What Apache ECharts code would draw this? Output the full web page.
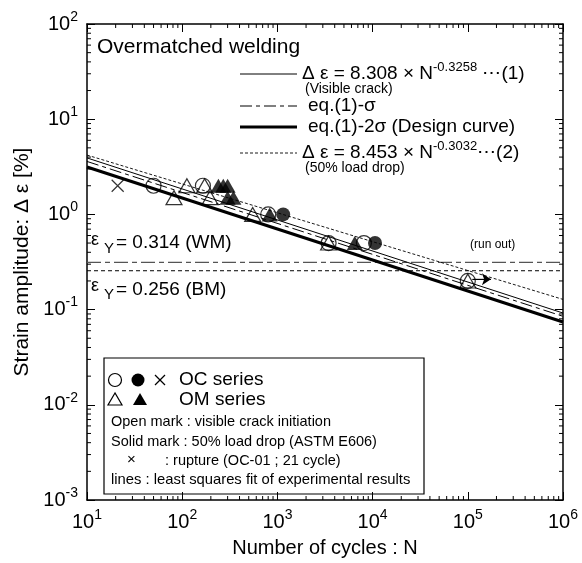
<!DOCTYPE html>
<html>
<head>
  <meta charset="utf-8">
  <title>Overmatched welding - strain life</title>
  <script src="https://cdn.jsdelivr.net/npm/echarts@6/dist/echarts.min.js"></script>
</head>
<style>
  html, body { margin: 0; padding: 0; background: #fff; }
  #chart { width: 582px; height: 563px; }
</style>
<body>
<div id="chart"></div>
<script>
  // measured points [N, strain %]
  const ocOpen = [[50, 2.0], [165, 2.0], [800, 1.0], [3450, 0.5], [8100, 0.5], [100000, 0.2]];
  const ocSolid = [[1150, 1.0], [10600, 0.5]];
  const ocRupture = [[21, 2.0]];
  const omOpen = [[82, 1.5], [112, 2.0], [172, 2.0], [196, 1.5], [550, 1.0], [3450, 0.5], [100000, 0.2]];
  const omSolid = [[240, 2.0], [270, 2.0], [300, 2.0], [300, 1.5], [345, 1.5], [830, 1.0], [6500, 0.5]];
  const runOut = [[112000, 0.208], [175000, 0.208]];

  // fitted lines (end points)
  const eq1 = [[10, 3.92], [1e6, 0.092]];
  const eq1Sigma = [[10, 3.6], [1e6, 0.085]];
  const eq1TwoSigma = [[10, 3.15], [1e6, 0.074]];
  const eq2 = [[10, 4.2], [1e6, 0.128]];
  const yieldWM = [[10, 0.314], [1e6, 0.314]];
  const yieldBM = [[10, 0.256], [1e6, 0.256]];

  // minor tick positions
  const xDecades = [10, 100, 1000, 10000, 100000];
  const yDecades = [0.001, 0.01, 0.1, 1, 10];
  const minorMult = [2, 3, 4, 5, 6, 7, 8, 9];

  const FONT = 'Liberation Sans, Arial, sans-serif';

  const powLabel = v => '{b|10}{s|' + Math.round(Math.log10(v)) + '}';
  const powRich = {
    b: { fontSize: 20, fontFamily: FONT, color: '#000' },
    s: { fontSize: 14, fontFamily: FONT, color: '#000', padding: [0, 0, 14, 0] }
  };

  function baseAxis(extra) {
    return Object.assign({
      type: 'log',
      logBase: 10,
      axisLine: { lineStyle: { color: '#000', width: 1.5 } },
      axisTick: { inside: true, length: 8, lineStyle: { color: '#000', width: 1 } },
      splitLine: { show: false },
      minorTick: { show: false }
    }, extra);
  }

  const chart = echarts.init(document.getElementById('chart'));

  const txt = (x, y, text, size, extra) => ({
    type: 'text', x: x, y: y, silent: true,
    style: Object.assign({ text: text, fontSize: size, fontFamily: FONT, fill: '#000', verticalAlign: 'middle' }, extra || {})
  });
  const eqRich = {
    a: { fontSize: 19, fontFamily: FONT, color: '#000' },
    s: { fontSize: 13, fontFamily: FONT, color: '#000', padding: [0, 0, 13, 0] }
  };
  const openStyle = { color: 'rgba(0,0,0,0)', borderColor: '#000', borderWidth: 1.2 };

  const option = {
    backgroundColor: '#fff',
    animation: false,
    grid: { left: 87, right: 19, top: 24, bottom: 63 },
    xAxis: [
      baseAxis({
        min: 10, max: 1e6, position: 'bottom',
        axisLabel: { formatter: powLabel, rich: powRich, margin: 8 },
        name: 'Number of cycles : N', nameLocation: 'middle', nameGap: 38,
        nameTextStyle: { fontSize: 20, fontFamily: FONT, color: '#000' }
      }),
      baseAxis({ min: 10, max: 1e6, position: 'top', axisLabel: { show: false } })
    ],
    yAxis: [
      baseAxis({
        min: 0.001, max: 100, position: 'left',
        axisLabel: { formatter: powLabel, rich: powRich, margin: 9 },
        name: 'Strain amplitude: Δ ε [%]', nameLocation: 'middle', nameGap: 49,
        nameTextStyle: { fontSize: 21, fontFamily: FONT, color: '#000' }
      }),
      baseAxis({ min: 0.001, max: 100, position: 'right', axisLabel: { show: false } })
    ],
    series: [
      {
        type: 'custom', silent: true, data: [[10, 1]],
        renderItem: function (params, api) {
          const kids = [];
          const st = { stroke: '#000', lineWidth: 1 };
          xDecades.forEach(d => minorMult.forEach(m => {
            const b = api.coord([d * m, 0.001]);
            const t = api.coord([d * m, 100]);
            kids.push({ type: 'line', shape: { x1: b[0], y1: b[1], x2: b[0], y2: b[1] - 4 }, style: st });
            kids.push({ type: 'line', shape: { x1: t[0], y1: t[1], x2: t[0], y2: t[1] + 4 }, style: st });
          }));
          yDecades.forEach(d => minorMult.forEach(m => {
            const l = api.coord([10, d * m]);
            const r = api.coord([1e6, d * m]);
            kids.push({ type: 'line', shape: { x1: l[0], y1: l[1], x2: l[0] + 4, y2: l[1] }, style: st });
            kids.push({ type: 'line', shape: { x1: r[0], y1: r[1], x2: r[0] - 4, y2: r[1] }, style: st });
          }));
          return { type: 'group', children: kids };
        }
      },
      { type: 'line', data: yieldWM, symbol: 'none', silent: true,
        lineStyle: { color: '#555', width: 1.2, type: [14, 4, 5, 4] } },
      { type: 'line', data: yieldBM, symbol: 'none', silent: true,
        lineStyle: { color: '#000', width: 1, type: [4, 3] } },
      { type: 'line', data: eq2, symbol: 'none', silent: true,
        lineStyle: { color: '#000', width: 0.9, type: [3, 2] } },
      { type: 'line', data: eq1, symbol: 'none', silent: true,
        lineStyle: { color: '#000', width: 1 } },
      { type: 'line', data: eq1Sigma, symbol: 'none', silent: true,
        lineStyle: { color: '#000', width: 1, type: [12, 4, 4, 4] } },
      { type: 'line', data: eq1TwoSigma, symbol: 'none', silent: true,
        lineStyle: { color: '#000', width: 3 } },
      { type: 'scatter', data: omSolid, symbol: 'triangle', symbolSize: [16, 14],
        itemStyle: { color: '#000' } },
      { type: 'scatter', data: ocSolid, symbol: 'circle', symbolSize: 14,
        itemStyle: { color: '#000' } },
      { type: 'scatter', data: ocOpen, symbol: 'circle', symbolSize: 15, itemStyle: openStyle },
      { type: 'scatter', data: omOpen, symbol: 'triangle', symbolSize: [16, 14], itemStyle: openStyle },
      { type: 'scatter', data: ocRupture, symbol: 'path://M0,0L10,10M10,0L0,10', symbolSize: 12,
        itemStyle: openStyle },
      { type: 'line', data: runOut, symbol: 'none', silent: true,
        lineStyle: { color: '#000', width: 1 },
        markLine: {
          silent: true, symbol: ['none', 'arrow'], symbolSize: 9, label: { show: false },
          lineStyle: { color: '#000', width: 1, type: 'solid' },
          data: [[{ coord: runOut[0] }, { coord: runOut[1] }]]
        } }
    ],
    graphic: [
      txt(97, 47, 'Overmatched welding', 21),
      { type: 'line', shape: { x1: 240, y1: 74, x2: 297, y2: 74 }, style: { stroke: '#000', lineWidth: 1 } },
      { type: 'text', x: 302, y: 74, style: { text: '{a|Δ ε = 8.308 × N}{s|-0.3258}{a| ⋯(1)}', rich: eqRich, verticalAlign: 'middle' } },
      txt(305, 89, '(Visible crack)', 14),
      { type: 'line', shape: { x1: 240, y1: 106, x2: 297, y2: 106 }, style: { stroke: '#000', lineWidth: 1, lineDash: [12, 4, 4, 4] } },
      txt(308, 106, 'eq.(1)-σ', 19),
      { type: 'line', shape: { x1: 240, y1: 127, x2: 297, y2: 127 }, style: { stroke: '#000', lineWidth: 3 } },
      txt(308, 127, 'eq.(1)-2σ (Design curve)', 19),
      { type: 'line', shape: { x1: 240, y1: 153, x2: 297, y2: 153 }, style: { stroke: '#000', lineWidth: 0.9, lineDash: [3, 2] } },
      { type: 'text', x: 302, y: 153, style: { text: '{a|Δ ε = 8.453 × N}{s|-0.3032}{a|⋯(2)}', rich: eqRich, verticalAlign: 'middle' } },
      txt(305, 168, '(50% load drop)', 14),

      txt(91, 240, 'ε', 18),
      txt(104, 249, 'Y', 15),
      txt(116, 243, '= 0.314 (WM)', 19),
      txt(91, 286, 'ε', 18),
      txt(104, 295, 'Y', 15),
      txt(116, 290, '= 0.256 (BM)', 19),
      txt(470, 245, '(run out)', 12),

      { type: 'rect', shape: { x: 104, y: 358, width: 320, height: 136 }, style: { fill: '#fff', stroke: '#000', lineWidth: 1.2 } },
      { type: 'circle', shape: { cx: 115, cy: 380, r: 6.5 }, style: { fill: 'none', stroke: '#000', lineWidth: 1.2 } },
      { type: 'circle', shape: { cx: 138, cy: 380, r: 6.5 }, style: { fill: '#000' } },
      { type: 'polyline', shape: { points: [[155, 375], [165, 385]] }, style: { stroke: '#000', lineWidth: 1.2 } },
      { type: 'polyline', shape: { points: [[165, 375], [155, 385]] }, style: { stroke: '#000', lineWidth: 1.2 } },
      { type: 'polygon', shape: { points: [[115, 393], [108, 405], [122, 405]] }, style: { fill: 'none', stroke: '#000', lineWidth: 1.2 } },
      { type: 'polygon', shape: { points: [[140, 393], [133, 405], [147, 405]] }, style: { fill: '#000' } },
      txt(179, 380, 'OC series', 19),
      txt(179, 400, 'OM series', 19),
      txt(111, 422, 'Open mark : visible crack initiation', 14.5),
      txt(111, 442, 'Solid mark : 50% load drop (ASTM E606)', 14.5),
      txt(127, 460, '×', 15),
      txt(165, 461, ': rupture (OC-01 ; 21 cycle)', 14.5),
      txt(111, 480, 'lines : least squares fit of experimental results', 14.8)
    ]
  };
  chart.setOption(option);
</script>
</body>
</html>
